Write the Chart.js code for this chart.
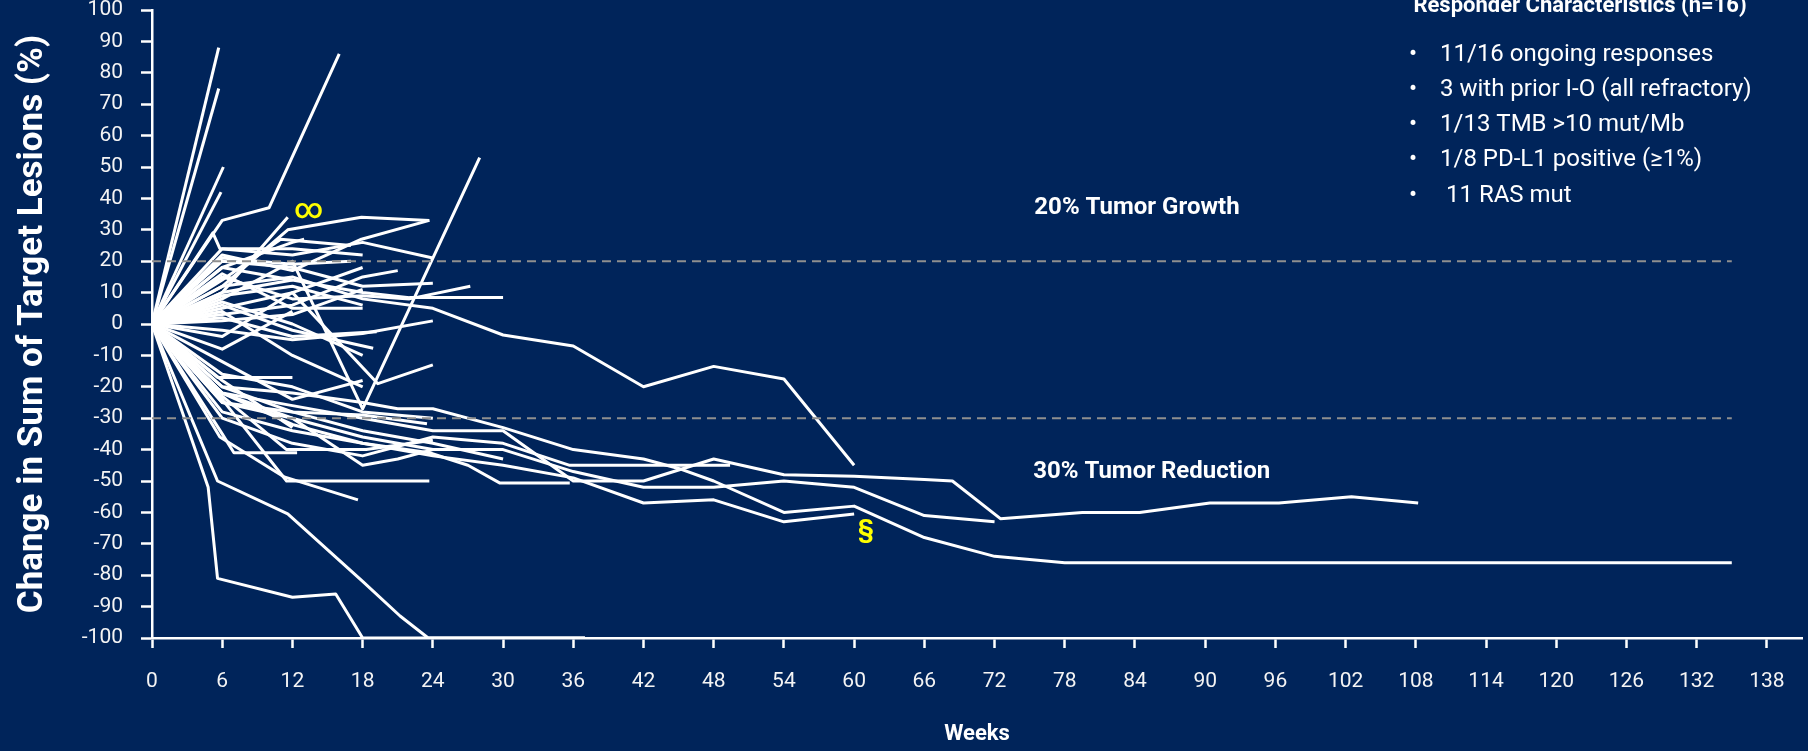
<!DOCTYPE html>
<html>
<head>
<meta charset="utf-8">
<script src="https://cdn.jsdelivr.net/npm/chart.js@4.4.1/dist/chart.umd.min.js"></script>
<style>
  html, body { margin: 0; padding: 0; background: #00245a; }
  canvas { display: block; }
</style>
</head>
<body>
<canvas id="spider" width="1808" height="751"></canvas>
<script>
// axis ticks
const weekTicks = [0, 6, 12, 18, 24, 30, 36, 42, 48, 54, 60, 66, 72, 78, 84, 90, 96, 102, 108, 114, 120, 126, 132, 138];
const changeTicks = [100, 90, 80, 70, 60, 50, 40, 30, 20, 10, 0, -10, -20, -30, -40, -50, -60, -70, -80, -90, -100];

// reference lines (% change) and how far they run (weeks)
const thresholdLevels = [20, -30];
const thresholdSpan = [0, 135];

// each patient: [week, % change] pairs
const progressors = [
  [[0, 0], [5.7, 88]],
  [[0, 0], [5.7, 75]],
  [[0, 0], [6.1, 50]],
  [[0, 0], [5.9, 42]],
  [[0, 0], [6, 33], [10, 37], [16, 86]],
  [[0, 0], [6, 12], [11.6, 30], [17.9, 34], [23.7, 33]],
  [[0, 0], [6, 22], [12, 17], [17.9, 27], [23.7, 33]],
  [[0, 0], [5.2, 29], [5.8, 24], [12, 22], [18, 26], [24, 21]],
  [[0, 0], [6, 24], [12, 24], [18, 22]],
  [[0, 0], [6, 10], [11.6, 34]],
  [[0, 0], [6, 8], [12, 20], [18, -27], [28, 53]],
  [[0, 0], [6, 14], [11, 27], [17, 25]],
  [[0, 0], [6, 18], [12, 26], [13, 27]],
  [[0, 0], [6, 21], [12, 19], [17, 20]]
];

const stableDisease = [
  [[0, 0], [6, 5], [12, 10], [19.3, -19], [24, -13]],
  [[0, 0], [6, 20], [12, 18], [18, 12], [24, 13]],
  [[0, 0], [6, 15], [12, 8], [18, 9], [22, 8], [27.2, 12]],
  [[0, 0], [6, 10], [12, 14], [18, 10], [22, 8.4], [30, 8.4]],
  [[0, 0], [6, 12], [12, 15], [18, 8], [24, 5], [30, -3.5], [36, -7], [42, -20], [48, -13.5], [54, -17.5], [60, -45]],
  [[0, 0], [6, 3], [12, 6], [18, 15], [21, 17]],
  [[0, 0], [6, -2], [12, -5], [18, -3], [24, 1]],
  [[0, 0], [6, 2], [12, -4], [19.2, -2.5]],
  [[0, 0], [6, 6], [12, -2], [18.9, -7.7]],
  [[0, 0], [5.6, -17], [12, -17]],
  [[0, 0], [6, 18], [12, 14]],
  [[0, 0], [6, -8], [12, 4]],
  [[0, 0], [6, 7], [12, 0], [18, -10]],
  [[0, 0], [6, 16], [12, 5], [18, 5]],
  [[0, 0], [6, -4], [12, 10], [18, 18]],
  [[0, 0], [6, 4], [12, -10], [18, -20]],
  [[0, 0], [6, 9], [12, 12], [18, 6]],
  [[0, 0], [6, -12], [12, -24], [18, -18]],
  [[0, 0], [6, 1], [12, 3], [18, 11]]
];

const responders = [
  [[0, 0], [4.8, -52], [5.6, -81], [12, -87], [15.7, -86], [18, -100], [37, -100]],
  [[0, 0], [5.6, -50], [11.6, -60.5], [18, -82], [21.2, -93], [23.6, -100], [37, -100]],
  [[0, 0], [5.8, -36], [11.3, -48.7], [17.6, -56]],
  [[0, 0], [6, -35], [7, -41], [12.4, -41]],
  [[0, 0], [6, -24], [11.5, -50], [23.7, -50]],
  [[0, 0], [6, -23], [11.5, -40], [18.3, -40], [24, -37]],
  [[0, 0], [6, -20], [12, -22], [18, -25], [21, -27], [24, -27], [30, -33], [36, -40], [42, -43], [45, -46], [48, -50], [54, -60], [60, -58], [66, -68], [72, -74], [78, -76], [135, -76]],
  [[0, 0], [6, -22], [12, -26], [18, -30], [24, -34], [30, -34], [36, -50], [42, -50], [48, -43], [54, -48], [60, -48.5], [66, -49.5], [68.4, -50], [72.5, -62], [79.5, -60], [84.4, -60], [90.4, -57], [96.3, -57], [102.5, -55], [108.2, -57]],
  [[0, 0], [6, -25], [12, -30], [18, -36], [24, -40], [30, -40], [36, -47], [42, -52], [48, -52], [54, -50], [60, -52], [66, -61], [72, -63]],
  [[0, 0], [6, -22], [12, -32], [18, -38], [24, -42], [30, -45], [36, -49], [42, -57], [48, -56], [54, -63], [60, -60.5]],
  [[0, 0], [6, -30], [12, -38], [18, -42], [24, -36], [30, -38], [35.7, -45], [49.4, -45]],
  [[0, 0], [6, -28], [12, -34], [18, -38], [23.7, -41], [27, -45], [29.7, -50.6], [35.7, -50.6]],
  [[0, 0], [6, -20], [12, -28], [18, -34], [24, -38], [30, -43]],
  [[0, 0], [6, -22], [12, -30], [18, -45], [21, -43], [24, -40]],
  [[0, 0], [6, -25], [12, -28], [18, -29], [23.5, -31.8]],
  [[0, 0], [6, -18], [12, -33]],
  [[0, 0], [6, -16], [12, -20], [18, -28], [24, -30]]
];

const responderTitle = 'Responder Characteristics (n=16)';
const responderNotes = [
  '11/16 ongoing responses',
  '3 with prior I-O (all refractory)',
  '1/13 TMB >10 mut/Mb',
  '1/8 PD-L1 positive (\u22651%)',
  ' 11 RAS mut'
];

const NAVY = '#00245a';

const toPoints = path => path.map(p => ({ x: p[0], y: p[1] }));

const thresholdSets = thresholdLevels.map(level => ({
  data: thresholdSpan.map(w => ({ x: w, y: level })),
  borderColor: '#8f8f8f',
  borderWidth: 2,
  borderDash: [9, 6],
  pointRadius: 0
}));

const patientSets = progressors.concat(stableDisease, responders).map(path => ({
  data: toPoints(path),
  borderColor: '#ffffff',
  borderWidth: 3,
  borderJoinStyle: 'round',
  pointRadius: 0
}));

const notesPlugin = {
  id: 'notes',
  beforeDraw(chart) {
    const ctx = chart.ctx;
    ctx.save();
    ctx.fillStyle = NAVY;
    ctx.fillRect(0, 0, chart.width, chart.height);
    ctx.restore();
  },
  afterDraw(chart) {
    const { ctx, scales: { x, y } } = chart;
    ctx.save();
    ctx.fillStyle = '#ffffff';
    ctx.font = 'bold 24px Roboto';
    ctx.textAlign = 'left';
    ctx.textBaseline = 'alphabetic';
    ctx.fillText('20% Tumor Growth', x.getPixelForValue(75.4), y.getPixelForValue(35));
    ctx.fillText('30% Tumor Reduction', x.getPixelForValue(75.3), y.getPixelForValue(-49));

    ctx.fillStyle = '#ffff00';
    ctx.textAlign = 'center';
    ctx.textBaseline = 'middle';
    ctx.font = '500 28px Roboto';
    ctx.fillText('\u221e', x.getPixelForValue(13.4), y.getPixelForValue(36));
    ctx.font = 'bold 26px Roboto';
    ctx.fillText('\u00a7', x.getPixelForValue(61), y.getPixelForValue(-66.2));

    // responder box, top right
    ctx.fillStyle = '#ffffff';
    ctx.textBaseline = 'alphabetic';
    ctx.font = 'bold 22px Roboto';
    ctx.fillText(responderTitle, 1580, 12);
    ctx.font = '24px Roboto';
    responderNotes.forEach((t, i) => {
      const base = 60.5 + i * 35.25;
      ctx.textAlign = 'center';
      ctx.fillText('\u2022', 1413, base);
      ctx.textAlign = 'left';
      ctx.fillText(t, 1440, base);
    });
    ctx.restore();
  }
};

new Chart(document.getElementById('spider'), {
  type: 'line',
  data: { datasets: thresholdSets.concat(patientSets) },
  options: {
    responsive: false,
    animation: false,
    devicePixelRatio: 1,
    layout: { padding: { top: 10, right: 6, bottom: 0, left: 0 } },
    plugins: {
      legend: { display: false },
      tooltip: { enabled: false }
    },
    scales: {
      x: {
        type: 'linear',
        min: 0,
        max: 141,
        afterBuildTicks: s => { s.ticks = weekTicks.map(v => ({ value: v })); },
        afterFit: s => { s.height = 113; s.paddingLeft = 0; s.paddingRight = 0; },
        grid: { drawOnChartArea: false, drawTicks: true, tickLength: 10, tickColor: '#ffffff', tickWidth: 2.5 },
        border: { display: true, color: '#ffffff', width: 2.5 },
        ticks: { color: '#f4f4f4', font: { family: 'Roboto', size: 21 }, padding: 21, maxRotation: 0, autoSkip: false },
        title: { display: true, text: 'Weeks', color: '#ffffff', font: { family: 'Roboto', size: 22, weight: 'bold' }, padding: { top: 0, bottom: 3 } }
      },
      y: {
        min: -100,
        max: 100,
        afterBuildTicks: s => { s.ticks = changeTicks.map(v => ({ value: v })); },
        afterFit: s => { s.width = 152; s.paddingTop = 0; s.paddingBottom = 0; },
        grid: { drawOnChartArea: false, drawTicks: true, tickLength: 11, tickColor: '#ffffff', tickWidth: 2.5 },
        border: { display: true, color: '#ffffff', width: 2.5 },
        ticks: { color: '#f4f4f4', font: { family: 'Roboto', size: 21 }, padding: 18, autoSkip: false },
        title: { display: true, text: 'Change in Sum of Target Lesions (%)', color: '#ffffff', font: { family: 'Roboto', size: 35, weight: 'bold' }, padding: { top: 12, bottom: 0 } }
      }
    }
  },
  plugins: [notesPlugin]
});
</script>
</body>
</html>
